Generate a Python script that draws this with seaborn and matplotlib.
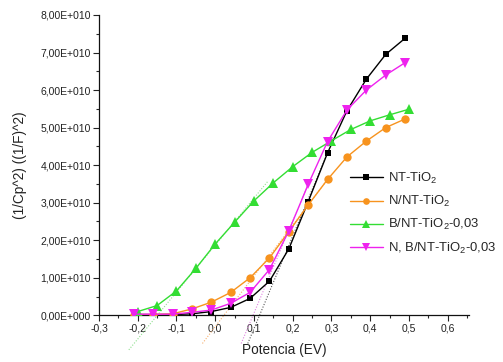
import matplotlib
matplotlib.use("Agg")
import matplotlib.pyplot as plt
from matplotlib.ticker import FuncFormatter, MultipleLocator
import seaborn as sns
import pandas as pd

# ---- data ----
x_main = [-0.21, -0.16, -0.11, -0.06, -0.01, 0.04, 0.09, 0.14, 0.19, 0.24, 0.29, 0.34, 0.39, 0.44, 0.49]
x_green = [-0.20, -0.15, -0.10, -0.05, 0.00, 0.05, 0.10, 0.15, 0.20, 0.25, 0.30, 0.35, 0.40, 0.45, 0.50]

nt_tio2 = [0.02, 0.02, 0.02, 0.04, 0.10, 0.21, 0.45, 0.91, 1.77, 3.03, 4.33, 5.45, 6.29, 6.95, 7.38]
n_nt_tio2 = [0.02, 0.02, 0.04, 0.17, 0.35, 0.61, 1.00, 1.53, 2.23, 2.94, 3.62, 4.22, 4.64, 5.00, 5.23]
b_nt_tio2 = [0.10, 0.26, 0.65, 1.25, 1.90, 2.48, 3.05, 3.53, 3.96, 4.34, 4.65, 4.95, 5.18, 5.34, 5.49]
nb_nt_tio2 = [0.03, 0.03, 0.03, 0.08, 0.14, 0.32, 0.61, 1.22, 2.25, 3.49, 4.63, 5.47, 6.00, 6.40, 6.73]

labels = ["NT-TiO$_2$", "N/NT-TiO$_2$", "B/NT-TiO$_2$-0,03", "N, B/NT-TiO$_2$-0,03"]

# tangent (Mott-Schottky) fit lines: two end points each
fit_x = {"black": [0.084, 0.29], "orange": [-0.033, 0.29], "green": [-0.223, 0.135], "magenta": [0.067, 0.24]}
fit_y = {"black": [-0.75, 4.33], "orange": [-0.75, 3.62], "green": [-0.92, 3.56], "magenta": [-0.75, 3.49]}

SCALE = 1e10

sns.set_style("ticks")
plt.rcParams["font.family"] = ["Liberation Sans", "DejaVu Sans"]
plt.rcParams["mathtext.fontset"] = "custom"
plt.rcParams["mathtext.rm"] = "Liberation Sans"
plt.rcParams["mathtext.default"] = "regular"

fig = plt.figure(figsize=(5.03, 3.62), dpi=100)
ax = fig.add_axes([99/503, 1 - 315.3/362, (469-99)/503, (315.3-15)/362])

c_black = "#000000"
c_orange = "#F7931E"
c_green = "#33DD33"
c_magenta = "#EE22EE"

# fitted dotted lines (drawn beneath)
fit_cols = {"black": "#555555", "orange": "#F5B070", "green": "#8FE08F", "magenta": "#E080E0"}
for k in ["green", "orange", "magenta", "black"]:
    ax.plot(fit_x[k], [v*SCALE for v in fit_y[k]], linestyle=(0, (1, 1.5)),
            color=fit_cols[k], lw=0.8, clip_on=False, zorder=1)

series = [
    (x_main, nt_tio2, c_black, "s", 5, labels[0]),
    (x_main, n_nt_tio2, c_orange, "o", 6, labels[1]),
    (x_green, b_nt_tio2, c_green, "^", 7, labels[2]),
    (x_main, nb_nt_tio2, c_magenta, "v", 7, labels[3]),
]
for xs, ys, col, mk, ms, lab in series:
    df = pd.DataFrame({"x": xs, "y": [v*SCALE for v in ys]})
    sns.lineplot(data=df, x="x", y="y", ax=ax, color=col, marker=mk, markersize=ms,
                 markeredgewidth=0, lw=1.0, label=lab, zorder=3)

ax.set_xlim(-0.3, 0.655)
ax.set_ylim(0, 8e10)
ax.xaxis.set_major_locator(MultipleLocator(0.1))
ax.xaxis.set_minor_locator(MultipleLocator(0.05))
ax.yaxis.set_major_locator(MultipleLocator(1e10))
ax.yaxis.set_minor_locator(MultipleLocator(0.5e10))

def yfmt(v, pos):
    if abs(v) < 1:
        return "0,00E+000"
    return f"{v/1e10:.2f}".replace(".", ",") + "E+010"

def xfmt(v, pos):
    s = f"{v:.1f}".replace(".", ",")
    if s == "-0,0":
        s = "0,0"
    return s

ax.yaxis.set_major_formatter(FuncFormatter(yfmt))
ax.xaxis.set_major_formatter(FuncFormatter(xfmt))
ax.tick_params(axis="both", which="major", direction="out", length=4, width=0.8, labelsize=7.5, pad=2, colors="#222222")
ax.tick_params(axis="both", which="minor", direction="out", length=2.5, width=0.8)
for s in ["top", "right"]:
    ax.spines[s].set_visible(False)
for s in ["left", "bottom"]:
    ax.spines[s].set_linewidth(0.9)
    ax.spines[s].set_color("#111111")

ax.set_xlabel("Potencia (EV)", fontsize=9.8, color="#222222")
ax.set_ylabel("(1/Cp^2) ((1/F)^2)", fontsize=9.8, color="#222222")
ax.xaxis.set_label_coords(0.5, -0.093)
ax.yaxis.set_label_coords(-0.195, 0.5)

leg = ax.legend(loc="upper left", bbox_to_anchor=(350/503, 1 - 171/362), bbox_transform=fig.transFigure,
                frameon=False, fontsize=9.4, handlelength=2.5, handletextpad=0.4, labelspacing=0.62,
                borderaxespad=0, borderpad=0, markerscale=0.8)

fig.savefig("out.png", dpi=100)
